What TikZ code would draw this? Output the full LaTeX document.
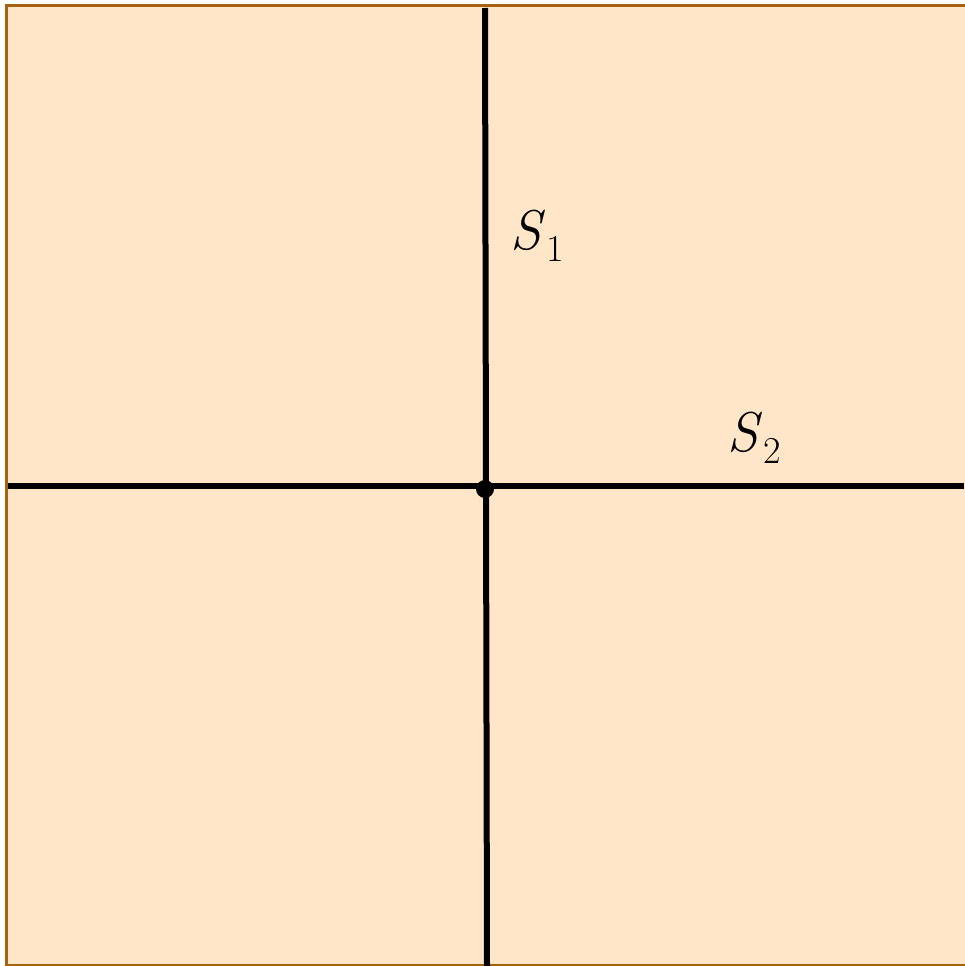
\documentclass[tikz,border=0pt]{standalone}
\newcommand{\lblsub}[2]{\textit{#1}\kern1pt\raisebox{-0.22em}{\fontsize{38}{40}\selectfont #2}}
\begin{document}
\begin{tikzpicture}[x=1pt,y=-1pt,
  frame/.style={draw={rgb,255:red,166;green,98;blue,16},fill={rgb,255:red,255;green,230;blue,200},line width=3pt},
  axis/.style={draw=black,line width=6pt},
  lbl/.style={font=\fontsize{56}{62}\selectfont,inner sep=0pt}]
\useasboundingbox (0,0) rectangle (964,966);
\path[frame] (6.5,5.5) rectangle (970,965.5);
\coordinate (t) at (485,8);
\coordinate (b) at (487,966);
\coordinate (l) at (8,486);
\coordinate (r) at (964,486);
\draw[axis] (t) -- (b);
\draw[axis] (l) -- (r);
\fill (485,489) circle (9) coordinate (o);
\node[lbl] (s1) at (537,236) {\lblsub{S}{1}};
\node[lbl] (s2) at (754,438) {\lblsub{S}{2}};
\end{tikzpicture}
\end{document}
